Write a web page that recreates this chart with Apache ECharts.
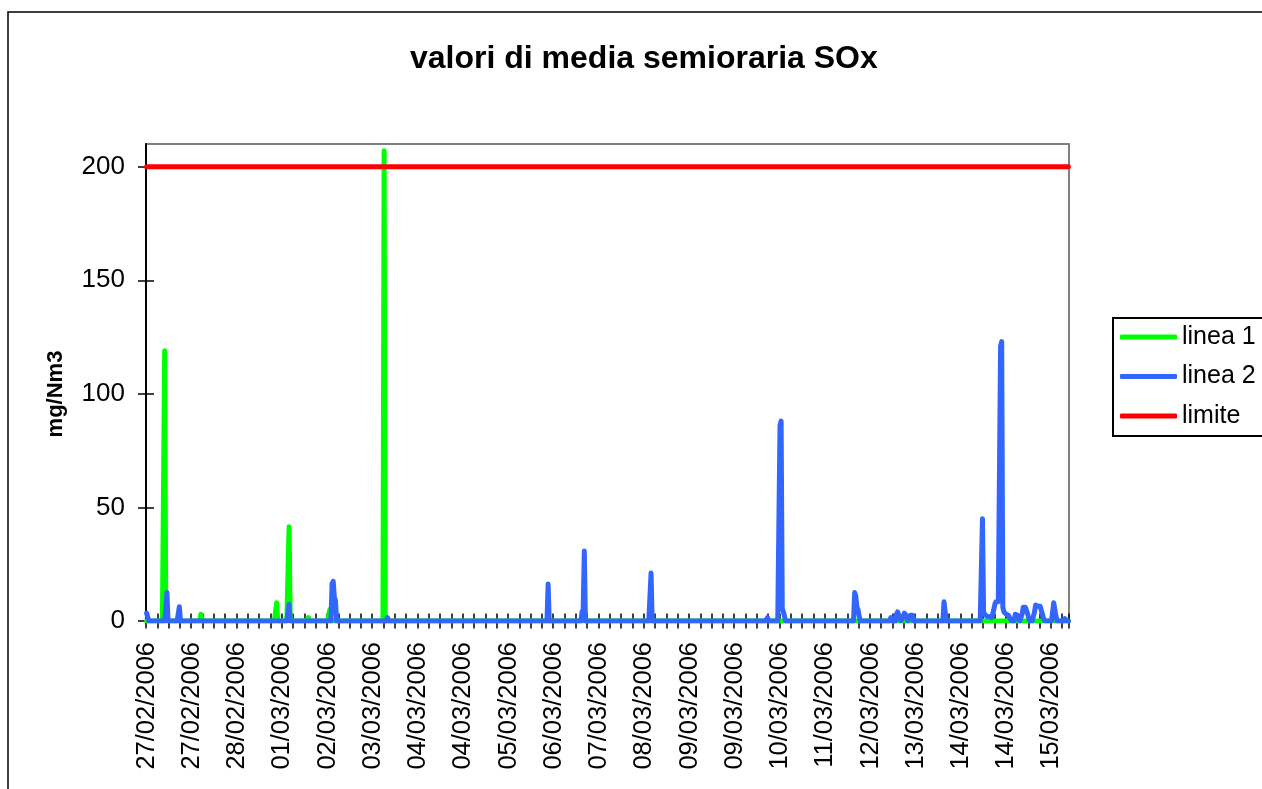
<!DOCTYPE html>
<html><head><meta charset="utf-8">
<script src="https://cdn.jsdelivr.net/npm/echarts@6/dist/echarts.min.js"></script>
<style>html,body{margin:0;padding:0;background:#fff}#c{width:1262px;height:789px}</style>
</head><body><div id="c"></div>
<script>
// Half-hourly readings from 27/02/2006 00:00 to 15/03/2006 23:30
const startDay = { y: 2006, m: 2, d: 27 };
const pointCount = 816;
const seriesNames = ['linea 1', 'linea 2', 'limite'];
const yTickValues = [0, 50, 100, 150, 200];
const limiteValue = 200;
// [point index, mg/Nm3] - all other readings are 0
const linea1Readings = [
  [16, 119], [48, 3], [115, 8], [126, 41.5], [143, 1.5], [162, 5], [210, 207]
];
const linea2Readings = [
  [0, 3.5], [1, 4], [17, 5], [18, 12.5], [29, 6.3], [126, 7.3],
  [164, 16.5], [165, 17.5], [166, 10.5], [167, 9], [213, 1.5],
  [355, 16.3], [385, 4], [386, 5], [387, 30.8], [446, 21.1], [549, 1.5],
  [560, 86], [561, 88], [562, 5.5], [563, 4], [564, 2],
  [626, 12.5], [627, 11], [628, 6], [629, 5], [630, 2],
  [658, 1.5], [659, 1.5], [663, 3], [664, 4], [665, 3.5], [666, 1.5],
  [669, 2], [670, 3.5], [671, 3.5], [672, 2], [675, 2.5], [676, 3], [677, 2.5],
  [705, 8.5], [706, 8], [739, 45], [740, 4], [741, 3], [742, 3], [743, 2],
  [744, 2], [745, 2], [746, 1.5], [747, 1.5], [748, 3], [749, 5], [750, 7.5],
  [751, 8.5], [752, 8], [753, 8.5], [754, 9], [755, 121], [756, 123], [757, 6],
  [758, 4], [759, 3.5], [760, 3], [761, 2.5], [762, 2.5], [763, 1.5], [764, 1],
  [768, 3], [769, 3.5], [770, 2.5], [771, 1], [774, 3], [775, 6], [776, 6.5],
  [777, 6], [778, 5.5], [779, 3], [780, 1], [785, 4], [786, 7], [787, 7],
  [788, 6.5], [789, 7], [790, 6.5], [791, 6], [792, 3], [793, 1],
  [802, 8], [803, 8.5], [804, 2], [812, 1]
];

function pad(n) { return (n < 10 ? '0' : '') + n; }
const categories = [];
for (let i = 0; i < pointCount; i++) {
  const t = new Date(Date.UTC(startDay.y, startDay.m - 1, startDay.d) + i * 1800000);
  categories.push(pad(t.getUTCDate()) + '/' + pad(t.getUTCMonth() + 1) + '/' + t.getUTCFullYear() +
    ' ' + pad(t.getUTCHours()) + ':' + pad(t.getUTCMinutes()));
}
function build(readings) {
  const arr = new Array(pointCount).fill(0);
  readings.forEach(([i, v]) => { arr[i] = v; });
  return arr;
}
const linea1 = build(linea1Readings);
const linea2 = build(linea2Readings);
const limite = new Array(pointCount).fill(limiteValue);

const FONT = 'Liberation Sans, Arial, sans-serif';
const chart = echarts.init(document.getElementById('c'), null, { renderer: 'canvas' });
const tickStyle = { color: '#000', width: 1.5 };
chart.setOption({
  animation: false,
  backgroundColor: '#fff',
  title: {
    text: 'valori di media semioraria SOx', left: 410, top: 41, padding: 0,
    textStyle: { fontFamily: FONT, fontWeight: 'bold', fontSize: 32, color: '#000', lineHeight: 36 }
  },
  graphic: [{
    type: 'rect', silent: true, z: -10,
    shape: { x: 8, y: 12, width: 1300, height: 800 },
    style: { fill: null, stroke: '#000', lineWidth: 1.5 }
  }],
  legend: {
    orient: 'vertical', left: 1113, top: 318, data: seriesNames,
    icon: 'roundRect', itemWidth: 57, itemHeight: 5, itemGap: 9.5,
    padding: [4, 30, 5, 7], borderColor: '#000', borderWidth: 2,
    textStyle: { fontFamily: FONT, fontSize: 25, color: '#000', lineHeight: 30 }
  },
  grid: { left: 146, right: 193, top: 144, bottom: 168, show: true, borderColor: '#808080', borderWidth: 2, containLabel: false },
  xAxis: [{
    type: 'category', data: categories, boundaryGap: true,
    axisLine: { show: true, lineStyle: { color: '#000', width: 2 } },
    axisTick: { show: true, interval: 9, length: 7.5, lineStyle: tickStyle },
    axisLabel: { show: true, interval: 39, rotate: 90, fontFamily: FONT, fontSize: 25.5, color: '#000', margin: 21,
      formatter: v => v.slice(0, 10) },
    splitLine: { show: false }
  }, {
    type: 'category', data: categories, boundaryGap: true, position: 'bottom', offset: 0,
    axisLine: { show: false },
    axisTick: { show: true, inside: true, interval: 9, length: 7.5, lineStyle: tickStyle },
    axisLabel: { show: false }, splitLine: { show: false }
  }],
  yAxis: [{
    type: 'value', min: 0, max: 210, interval: 50,
    axisLine: { show: true, lineStyle: { color: '#000', width: 2 } },
    axisTick: { show: true, length: 8, lineStyle: tickStyle, customValues: yTickValues },
    axisLabel: { fontFamily: FONT, fontSize: 26, color: '#000', margin: 21, customValues: yTickValues },
    splitLine: { show: false },
    name: 'mg/Nm3', nameLocation: 'middle', nameGap: 79,
    nameTextStyle: { fontFamily: FONT, fontWeight: 'bold', fontSize: 22, color: '#000', padding: [0, 23, 0, 0] }
  }, {
    type: 'value', min: 0, max: 210, interval: 50, position: 'left', offset: 0,
    axisLine: { show: false },
    axisTick: { show: true, inside: true, length: 8, lineStyle: tickStyle, customValues: yTickValues },
    axisLabel: { show: false }, splitLine: { show: false }
  }],
  series: [
    { name: 'linea 1', type: 'line', data: linea1, symbol: 'none', color: '#00ff00',
      lineStyle: { color: '#00ff00', width: 5, cap: 'round', join: 'round' } },
    { name: 'linea 2', type: 'line', data: linea2, symbol: 'none', color: '#3366ff',
      lineStyle: { color: '#3366ff', width: 5, cap: 'round', join: 'round' } },
    { name: 'limite', type: 'line', data: limite, symbol: 'none', color: '#ff0000',
      lineStyle: { color: '#ff0000', width: 5, cap: 'round', join: 'round' } }
  ]
});
</script></body></html>
